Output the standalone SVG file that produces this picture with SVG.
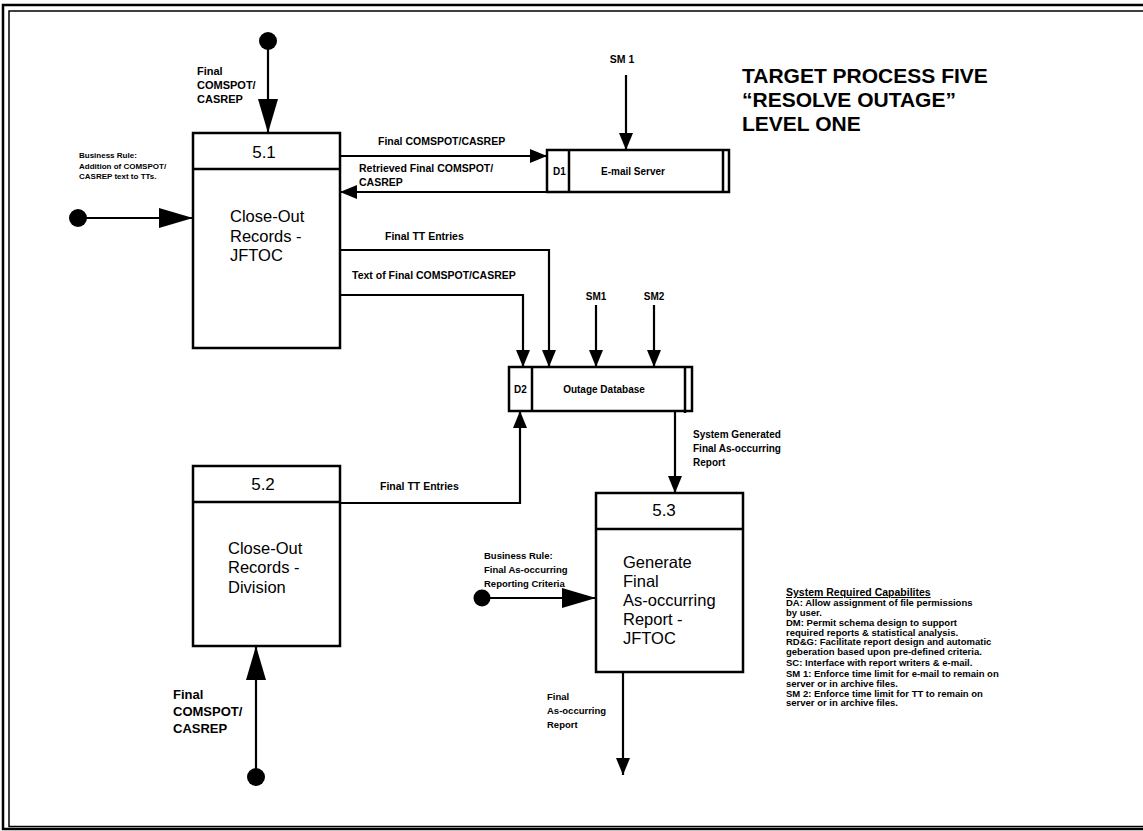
<svg xmlns="http://www.w3.org/2000/svg" width="1143" height="831" viewBox="0 0 1143 831">
<defs>
<style>
.box{fill:#fff;stroke:#000;stroke-width:2.5}
.ln{fill:none;stroke:#000;stroke-width:2.5}
.c{fill:none;stroke:#000;stroke-width:2.2}
.big{marker-end:url(#big)}
.sm{marker-end:url(#sm)}
.dot{fill:#000}
text{font-family:"Liberation Sans",Arial,sans-serif;fill:#000}
.lbl{font-size:10.5px;font-weight:bold}
.hdr{font-size:17px;text-anchor:middle}
.pt{font-size:16.5px}
.st{font-size:10px;font-weight:bold}
.note{font-size:9.5px;font-weight:bold}
.noteh{font-size:10.5px;font-weight:bold}
.title{font-size:21px;font-weight:bold}
</style>
<marker id="big" markerUnits="userSpaceOnUse" markerWidth="34" markerHeight="20" refX="34" refY="10" orient="auto"><path d="M0,0 L34,10 L0,20 Z" fill="#000"/></marker>
<marker id="sm" markerUnits="userSpaceOnUse" markerWidth="17" markerHeight="14" refX="17" refY="7" orient="auto"><path d="M0,0 L17,7 L0,14 Z" fill="#000"/></marker>
</defs>
<rect width="1143" height="831" fill="#fff"/>
<g id="frame">
<rect x="3" y="5" width="1150" height="824" fill="none" stroke="#000" stroke-width="2.5"/>
<rect x="9" y="11" width="1150" height="815.5" fill="none" stroke="#000" stroke-width="1.5"/>
</g>
<g id="title">
<text class="title" x="742" y="83">TARGET PROCESS FIVE</text>
<text class="title" x="742" y="107">“RESOLVE OUTAGE”</text>
<text class="title" x="742" y="131">LEVEL ONE</text>
</g>
<g id="p51">
<rect class="box" x="193" y="133" width="147" height="215"/>
<line class="ln" x1="193" y1="169" x2="340" y2="169"/>
<text class="hdr" x="264" y="158">5.1</text>
<text class="pt" x="230" y="222">Close-Out</text>
<text class="pt" x="230" y="242">Records -</text>
<text class="pt" x="230" y="261">JFTOC</text>
</g>
<g id="p52">
<rect class="box" x="193" y="466" width="147" height="180"/>
<line class="ln" x1="193" y1="502" x2="340" y2="502"/>
<text class="hdr" x="263" y="490">5.2</text>
<text class="pt" x="228" y="554">Close-Out</text>
<text class="pt" x="228" y="573">Records -</text>
<text class="pt" x="228" y="593">Division</text>
</g>
<g id="p53">
<rect class="box" x="596" y="493" width="147" height="179"/>
<line class="ln" x1="596" y1="529" x2="743" y2="529"/>
<text class="hdr" x="664" y="516">5.3</text>
<text class="pt" x="623" y="568">Generate</text>
<text class="pt" x="623" y="587">Final</text>
<text class="pt" x="623" y="606">As-occurring</text>
<text class="pt" x="623" y="625">Report -</text>
<text class="pt" x="623" y="644">JFTOC</text>
</g>
<g id="d1">
<rect class="box" x="547" y="150" width="182" height="42"/>
<line class="ln" x1="569" y1="150" x2="569" y2="192"/>
<line class="ln" x1="723" y1="150" x2="723" y2="193"/>
<text class="st" x="553" y="175">D1</text>
<text class="st" x="633" y="175" text-anchor="middle">E-mail Server</text>
</g>
<g id="d2">
<rect class="box" x="509" y="367" width="183" height="44"/>
<line class="ln" x1="532" y1="367" x2="532" y2="411"/>
<line class="ln" x1="685" y1="367" x2="685" y2="413"/>
<text class="st" x="514" y="393">D2</text>
<text class="st" x="604" y="393" text-anchor="middle">Outage Database</text>
</g>
<g id="connectors">
<circle class="dot" cx="268" cy="41" r="9"/>
<path class="c big" d="M268,41 L268,133"/>
<circle class="dot" cx="78" cy="218" r="9"/>
<path class="c big" d="M78,218 L193,218"/>
<path class="c sm" d="M340,156 L547,156"/>
<path class="c sm" d="M547,192 L340,192"/>
<path class="c sm" d="M626,75 L626,150"/>
<path class="c sm" d="M340,250 L549,250 L549,367"/>
<path class="c sm" d="M340,295 L523,295 L523,367"/>
<path class="c sm" d="M596,305 L596,367"/>
<path class="c sm" d="M654,305 L654,367"/>
<path class="c sm" d="M340,503 L520,503 L520,411"/>
<path class="c sm" d="M675,411 L675,493"/>
<circle class="dot" cx="256" cy="777" r="9"/>
<path class="c big" d="M256,777 L256,646"/>
<circle class="dot" cx="482" cy="598" r="8.5"/>
<path class="c big" d="M482,598 L596,598"/>
<path class="c sm" d="M623,672 L623,775"/>
</g>
<g id="labels">
<text style="font-size:11px;font-weight:bold" x="197" y="75">Final</text>
<text style="font-size:11px;font-weight:bold" x="197" y="89">COMSPOT/</text>
<text style="font-size:11px;font-weight:bold" x="197" y="103">CASREP</text>
<text style="font-size:8px;font-weight:bold" x="79" y="158">Business Rule:</text>
<text style="font-size:8px;font-weight:bold" x="79" y="169">Addition of  COMSPOT/</text>
<text style="font-size:8px;font-weight:bold" x="79" y="179">CASREP text to TTs.</text>
<text class="lbl" x="378" y="145">Final COMSPOT/CASREP</text>
<text class="lbl" x="359" y="172">Retrieved Final COMSPOT/</text>
<text class="lbl" x="359" y="186">CASREP</text>
<text class="lbl" x="622" y="63" text-anchor="middle">SM 1</text>
<text class="lbl" x="385" y="240">Final TT Entries</text>
<text class="lbl" x="352" y="279">Text of Final COMSPOT/CASREP</text>
<text class="st" x="596" y="300" text-anchor="middle">SM1</text>
<text class="st" x="654" y="300" text-anchor="middle">SM2</text>
<text class="st" x="693" y="438">System Generated</text>
<text class="st" x="693" y="452">Final As-occurring</text>
<text class="st" x="693" y="466">Report</text>
<text class="lbl" x="380" y="490">Final TT Entries</text>
<text style="font-size:9.5px;font-weight:bold" x="484" y="559">Business Rule:</text>
<text style="font-size:9.5px;font-weight:bold" x="484" y="573">Final As-occurring</text>
<text style="font-size:9.5px;font-weight:bold" x="484" y="587">Reporting Criteria</text>
<text style="font-size:9.5px;font-weight:bold" x="547" y="700">Final</text>
<text style="font-size:9.5px;font-weight:bold" x="547" y="714">As-occurring</text>
<text style="font-size:9.5px;font-weight:bold" x="547" y="728">Report</text>
<text style="font-size:13px;font-weight:bold" x="173" y="699">Final</text>
<text style="font-size:13px;font-weight:bold" x="173" y="716">COMSPOT/</text>
<text style="font-size:13px;font-weight:bold" x="173" y="733">CASREP</text>
</g>
<g id="notes">
<text class="noteh" x="786" y="596" text-decoration="underline">System Required Capabilites </text>
<text class="note" x="786" y="606">DA: Allow assignment of file permissions</text>
<text class="note" x="786" y="616">by user.</text>
<text class="note" x="786" y="626">DM: Permit schema design to support</text>
<text class="note" x="786" y="636">required reports &amp; statistical analysis.</text>
<text class="note" x="786" y="645">RD&amp;G: Facilitate report design and automatic</text>
<text class="note" x="786" y="655">geberation based upon pre-defined criteria.</text>
<text class="note" x="786" y="666">SC: Interface with report writers &amp; e-mail.</text>
<text class="note" x="786" y="677">SM 1: Enforce time limit for e-mail to remain on</text>
<text class="note" x="786" y="687"> server or in archive files.</text>
<text class="note" x="786" y="697">SM 2: Enforce time limit for TT to remain on</text>
<text class="note" x="786" y="706">server or in archive files.</text>
</g>
</svg>
